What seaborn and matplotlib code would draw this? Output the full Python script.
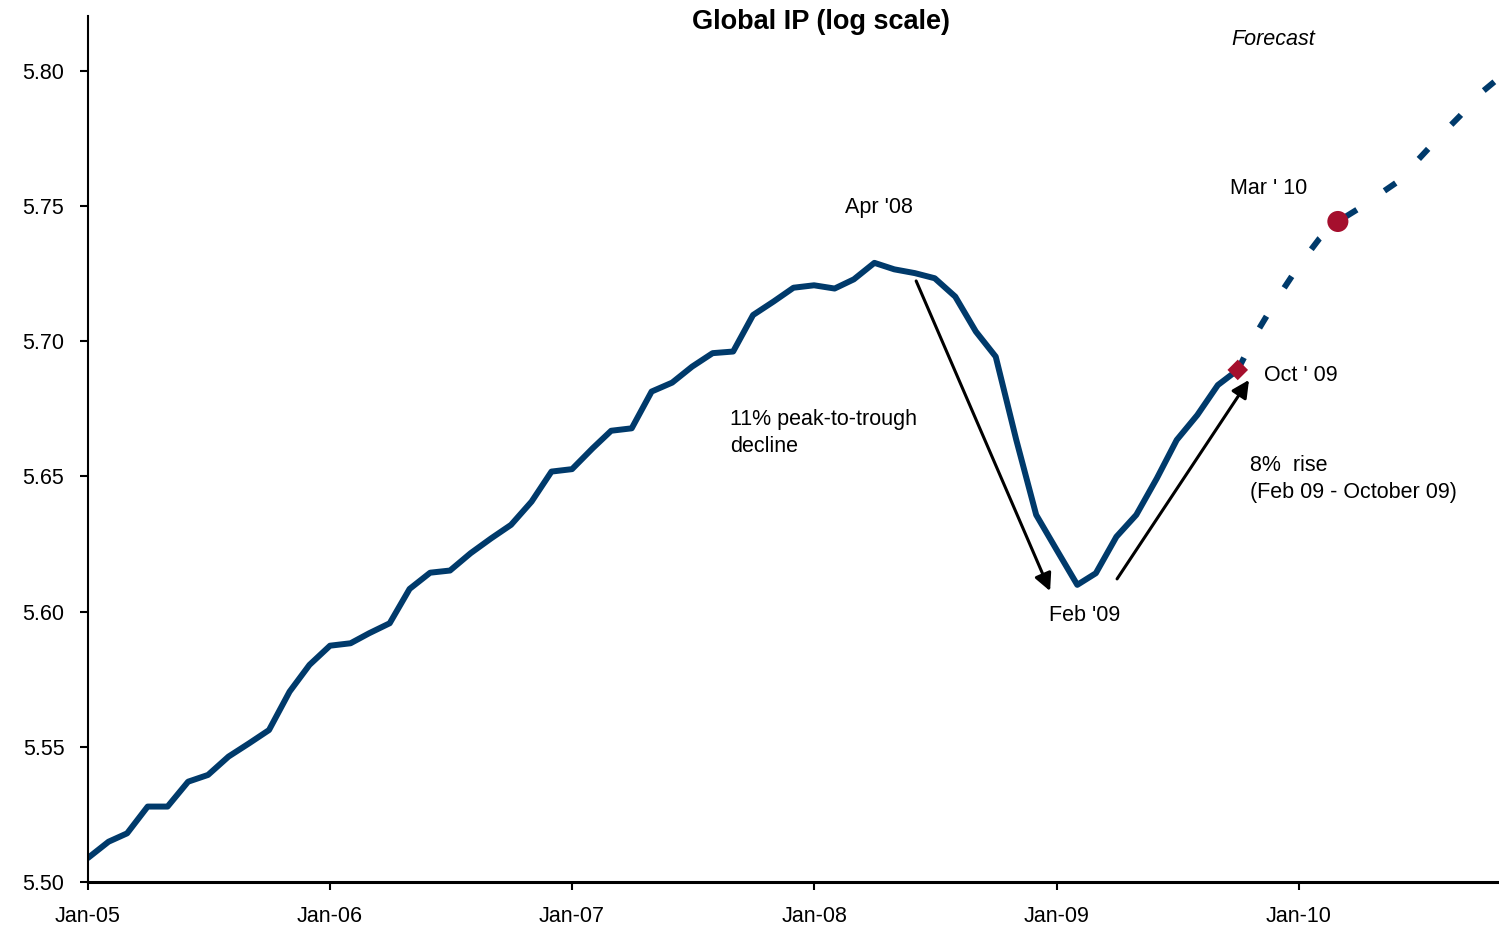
import numpy as np
import pandas as pd
import seaborn as sns
import matplotlib.pyplot as plt
import matplotlib.dates as mdates

sns.set_style("white")
plt.rcParams['font.family'] = ['Liberation Sans', 'DejaVu Sans']
plt.rcParams['text.color'] = 'black'

# global industrial production, log level (monthly, actual)
actual_months = pd.date_range("2005-01-01", "2009-10-01", freq="MS")
actual_values = [
    5.5089, 5.5149, 5.5180, 5.5279, 5.5279, 5.5371, 5.5396, 5.5464, 5.5513, 5.5562, 5.5704, 5.5803,
    5.5874, 5.5883, 5.5920, 5.5957, 5.6084, 5.6144, 5.6152, 5.6216, 5.6271, 5.6321, 5.6407, 5.6518,
    5.6527, 5.6604, 5.6669, 5.6678, 5.6814, 5.6847, 5.6906, 5.6956, 5.6962, 5.7097, 5.7147, 5.7198,
    5.7207, 5.7195, 5.7229, 5.7290, 5.7266, 5.7252, 5.7233, 5.7165, 5.7036, 5.6943, 5.6635, 5.6358,
    5.6228, 5.6099, 5.6142, 5.6277, 5.6358, 5.6493, 5.6635, 5.6727, 5.6838, 5.6894,
]

# forecast path
forecast_months = pd.date_range("2009-10-01", "2010-11-01", freq="MS")
forecast_values = [
    5.6894, 5.7042, 5.7164, 5.7279, 5.7379, 5.7443, 5.7490, 5.7541, 5.7593, 5.7674,
    5.7756, 5.7833, 5.7915, 5.7978,
]

year_ticks = pd.date_range("2005-01-01", "2010-01-01", freq="YS")
y_ticks = [5.50, 5.55, 5.60, 5.65, 5.70, 5.75, 5.80]

df_actual = pd.DataFrame({"month": actual_months, "ip": actual_values})
df_fcst = pd.DataFrame({"month": forecast_months, "ip": forecast_values})
df_oct = df_actual[df_actual["month"] == "2009-10-01"]
df_mar = df_fcst[df_fcst["month"] == "2010-03-01"]

navy = "#003A6B"
red = "#A50F2D"

fig = plt.figure(figsize=(14.99, 9.27), dpi=100)
ax = fig.add_axes([88 / 1499, 45 / 927, 1409 / 1499, 866 / 927])

sns.lineplot(data=df_actual, x="month", y="ip", color=navy, linewidth=4.3, ax=ax)
sns.lineplot(data=df_fcst, x="month", y="ip", color=navy, linewidth=4.3,
             linestyle=(0, (2.3, 5.6)), ax=ax)
sns.scatterplot(data=df_oct, x="month", y="ip", color=red, marker="D", s=110,
                edgecolor="none", zorder=5, ax=ax)
sns.scatterplot(data=df_mar, x="month", y="ip", color=red, marker="o", s=230,
                edgecolor="none", zorder=5, ax=ax)

ax.set_xlim(pd.Timestamp("2005-01-01"), pd.Timestamp("2010-10-27"))
ax.set_ylim(5.50, 5.8203)
ax.set_xticks(year_ticks)
ax.xaxis.set_major_formatter(mdates.DateFormatter("%b-%y"))
ax.set_yticks(y_ticks)
ax.set_yticklabels([f"{v:.2f}" for v in y_ticks])
ax.set_xlabel("")
ax.set_ylabel("")

for side in ["top", "right"]:
    ax.spines[side].set_visible(False)
ax.spines["left"].set_color("black")
ax.spines["left"].set_linewidth(1.5)
ax.spines["bottom"].set_color("black")
ax.spines["bottom"].set_linewidth(2.2)
ax.tick_params(axis="y", left=True, direction="out", length=6, width=1.5, pad=11,
               labelsize=15.5, colors="black")
ax.tick_params(axis="x", bottom=True, direction="out", length=6, width=1.5, pad=11.5,
               labelsize=15.5, colors="black")

fig.text(821 / 1499, 1 - 22 / 927, "Global IP (log scale)", ha="center", va="center",
         fontsize=19.5, fontweight="bold", color="black")

txt = dict(fontsize=15.5, ha="left", va="center", color="black")
ax.text(pd.Timestamp("2009-09-21"), 5.8115, "Forecast", style="italic", **txt)
ax.text(pd.Timestamp("2008-02-16"), 5.7495, "Apr '08", **txt)
ax.text(pd.Timestamp("2009-09-20"), 5.7566, "Mar ' 10", **txt)
ax.text(pd.Timestamp("2009-11-09"), 5.6872, "Oct ' 09", **txt)
ax.text(pd.Timestamp("2008-12-21"), 5.5984, "Feb '09", **txt)
ax.text(pd.Timestamp("2007-08-27"), 5.6662, "11% peak-to-trough\ndecline", linespacing=1.38, **txt)
ax.text(pd.Timestamp("2009-10-20"), 5.6492, "8%  rise\n(Feb 09 - October 09)", linespacing=1.38, **txt)

arrow = dict(arrowstyle="-|>", color="black", lw=2.2, mutation_scale=26, shrinkA=0, shrinkB=0)
ax.annotate("", xy=(pd.Timestamp("2008-12-22"), 5.6076),
            xytext=(pd.Timestamp("2008-06-03"), 5.7223), arrowprops=arrow)
ax.annotate("", xy=(pd.Timestamp("2009-10-18"), 5.6857),
            xytext=(pd.Timestamp("2009-04-02"), 5.6121), arrowprops=arrow)

fig.savefig("out.png", dpi=100)
